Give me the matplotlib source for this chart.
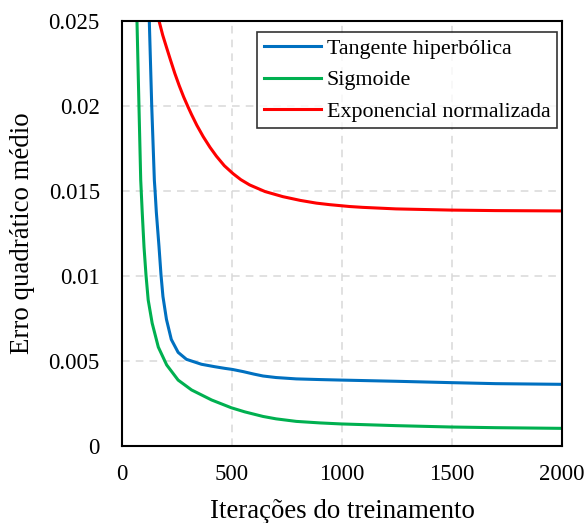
import matplotlib
matplotlib.use("Agg")
import matplotlib.pyplot as plt

# ── data ──
tanh_x = [124, 135, 147, 150, 156, 168, 177, 186, 202, 224, 255, 293, 361, 420, 467, 500,
          550, 600, 641, 700, 792, 900, 996, 1245, 1494, 1698, 2000]
tanh_y = [0.0250, 0.0200, 0.01561, 0.01504, 0.01373, 0.01173, 0.01008, 0.00878, 0.00743,
          0.00625, 0.00549, 0.00508, 0.00479, 0.00465, 0.00455, 0.00449, 0.00436, 0.00421,
          0.00410, 0.00401, 0.00393, 0.00389, 0.00386, 0.00379, 0.00371, 0.00365, 0.00361]

sig_x = [68, 77, 85, 92, 100, 109, 119, 137, 165, 203, 255, 316, 407, 497, 558, 641, 700,
         792, 900, 996, 1245, 1494, 1698, 2000]
sig_y = [0.0250, 0.0200, 0.01563, 0.01369, 0.01169, 0.01004, 0.00857, 0.00721, 0.00580,
         0.00475, 0.00386, 0.00328, 0.00269, 0.00223, 0.00199, 0.00172, 0.00158, 0.00143,
         0.00134, 0.00128, 0.00118, 0.0011, 0.00106, 0.00102]

exp_x = [168, 185, 203, 220, 240, 260, 280, 300, 316, 340, 369, 400, 429, 465, 505, 540,
         580, 650, 731, 810, 883, 943, 1034, 1094, 1245, 1494, 1698, 2000]
exp_y = [0.02500, 0.02415, 0.02340, 0.02270, 0.02190, 0.02118, 0.02052, 0.01993, 0.01948,
         0.01885, 0.01818, 0.01755, 0.01703, 0.01647, 0.01600, 0.01565, 0.01534, 0.01495,
         0.01465, 0.01443, 0.01427, 0.01418, 0.01407, 0.01402, 0.01393, 0.01386, 0.01383,
         0.01381]

labels = ["Tangente hiperbólica", "Sigmoide", "Exponencial normalizada"]
colors = ["#0070C0", "#00B050", "#FF0000"]

xticks = [0, 500, 1000, 1500, 2000]
yticks = [0, 0.005, 0.01, 0.015, 0.02, 0.025]
ytick_labels = ["0", "0.005", "0.01", "0.015", "0.02", "0.025"]

plt.rcParams["font.family"] = ["Liberation Serif", "DejaVu Serif"]

fig = plt.figure(figsize=(5.88, 5.23), dpi=100)
ax = fig.add_axes([0.2075, 0.1478, 0.7485, 0.8126])

for xs, ys, lab, col in zip([tanh_x, sig_x, exp_x], [tanh_y, sig_y, exp_y], labels, colors):
    ax.plot(xs, ys, color=col, lw=2.2, label=lab, solid_joinstyle="round")

ax.set_xlim(0, 2000)
ax.set_ylim(0, 0.025)
ax.set_xticks(xticks)
ax.set_yticks(yticks)
ax.set_yticklabels(ytick_labels)
ax.tick_params(axis="both", length=0, labelsize=16.5)
ax.tick_params(axis="y", pad=16)
ax.tick_params(axis="x", pad=13)
ax.grid(True, color="#D9D9D9", ls=(0, (5, 4)), lw=1.1)
ax.set_axisbelow(True)
for s in ax.spines.values():
    s.set_linewidth(1.5)
    s.set_color("black")

ax.set_xlabel("Iterações do treinamento", fontsize=19.4, labelpad=10)
ax.set_ylabel("Erro quadrático médio", fontsize=19.4, labelpad=10)

leg = ax.legend(loc="upper right", bbox_to_anchor=(0.9886, 0.973), borderaxespad=0,
                fontsize=15.8, frameon=True, fancybox=False, edgecolor="black",
                handlelength=2.6, handletextpad=0.27, labelspacing=0.5, borderpad=0.3)
leg.get_frame().set_linewidth(1.2)

fig.savefig("out.png", dpi=100)
